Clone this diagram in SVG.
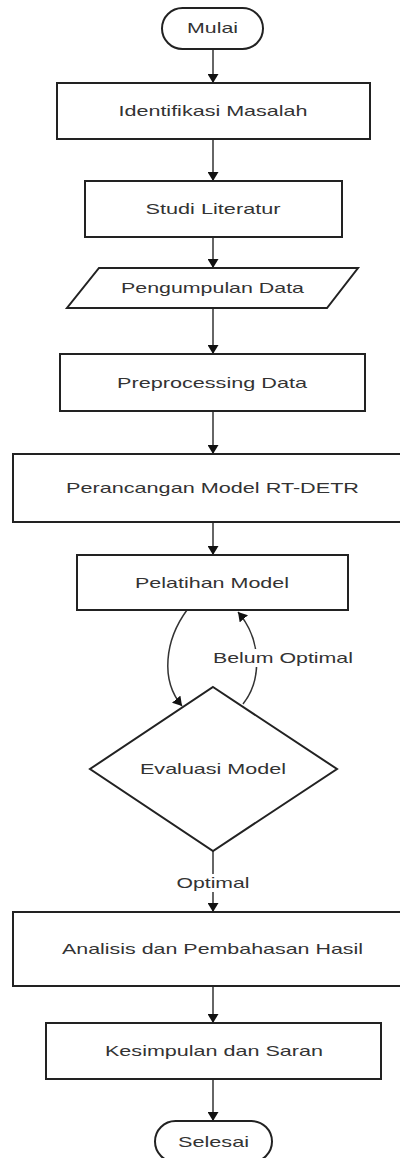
<svg xmlns="http://www.w3.org/2000/svg" width="400" height="1158" viewBox="0 0 400 1158">
<style>
.shape{fill:#fff;stroke:#222;stroke-width:2}
.txt{font-family:"Liberation Sans",Arial,sans-serif;font-size:15px;fill:#333;text-anchor:middle}
.edge{fill:none;stroke:#333;stroke-width:1.5}
.lblbg{fill:#fff;stroke:none}
</style>
<defs>
<marker id="arr" markerUnits="userSpaceOnUse" markerWidth="9" markerHeight="11" refX="9" refY="5.5" orient="auto">
<path d="M0,0 L9,5.5 L0,11 z" fill="#111"/>
</marker>
</defs>
<rect width="400" height="1158" fill="#fff"/>
<g id="connectors">
<line class="edge" x1="213" y1="49" x2="213" y2="83" marker-end="url(#arr)"/>
<line class="edge" x1="213" y1="139" x2="213" y2="181" marker-end="url(#arr)"/>
<line class="edge" x1="213" y1="237" x2="213" y2="268" marker-end="url(#arr)"/>
<line class="edge" x1="213" y1="308" x2="213" y2="354" marker-end="url(#arr)"/>
<line class="edge" x1="213" y1="411" x2="213" y2="454" marker-end="url(#arr)"/>
<line class="edge" x1="213" y1="522" x2="213" y2="555" marker-end="url(#arr)"/>
<path class="edge" d="M187,610 C165,640 160,680 182,706" marker-end="url(#arr)"/>
<path class="edge" d="M243,704 C262,680 262,640 238,612" marker-end="url(#arr)"/>
<rect class="lblbg" x="212" y="649" width="142" height="18"/>
<text class="txt" x="283" y="663.3" textLength="140" lengthAdjust="spacingAndGlyphs">Belum Optimal</text>
<line class="edge" x1="213" y1="851" x2="213" y2="912" marker-end="url(#arr)"/>
<rect class="lblbg" x="175" y="874" width="76" height="18"/>
<text class="txt" x="213" y="888.3" textLength="73" lengthAdjust="spacingAndGlyphs">Optimal</text>
<line class="edge" x1="213" y1="986" x2="213" y2="1023" marker-end="url(#arr)"/>
<line class="edge" x1="213" y1="1079" x2="213" y2="1121" marker-end="url(#arr)"/>
</g>
<g id="mulai">
<rect class="shape" x="162" y="8" width="101" height="41" rx="20.5"/>
<text class="txt" x="212.5" y="33.3" textLength="51" lengthAdjust="spacingAndGlyphs">Mulai</text>
</g>
<g id="identifikasi">
<rect class="shape" x="57" y="83" width="313" height="56"/>
<text class="txt" x="213" y="116.3" textLength="189" lengthAdjust="spacingAndGlyphs">Identifikasi Masalah</text>
</g>
<g id="studi">
<rect class="shape" x="85" y="181" width="257" height="56"/>
<text class="txt" x="213" y="214.3" textLength="135" lengthAdjust="spacingAndGlyphs">Studi Literatur</text>
</g>
<g id="pengumpulan">
<polygon class="shape" points="99,268 358,268 327,308 67,308"/>
<text class="txt" x="212.5" y="293.3" textLength="183" lengthAdjust="spacingAndGlyphs">Pengumpulan Data</text>
</g>
<g id="preprocessing">
<rect class="shape" x="60" y="354" width="305" height="57"/>
<text class="txt" x="212" y="387.8" textLength="190" lengthAdjust="spacingAndGlyphs">Preprocessing Data</text>
</g>
<g id="perancangan">
<rect class="shape" x="13" y="454" width="400" height="68"/>
<text class="txt" x="212.5" y="493.3" textLength="293" lengthAdjust="spacingAndGlyphs">Perancangan Model RT-DETR</text>
</g>
<g id="pelatihan">
<rect class="shape" x="77" y="555" width="271" height="55"/>
<text class="txt" x="212" y="587.8" textLength="154" lengthAdjust="spacingAndGlyphs">Pelatihan Model</text>
</g>
<g id="evaluasi">
<polygon class="shape" points="213,687 337,769 213,851 90,769"/>
<text class="txt" x="213" y="774.3" textLength="146" lengthAdjust="spacingAndGlyphs">Evaluasi Model</text>
</g>
<g id="analisis">
<rect class="shape" x="13" y="912" width="400" height="74"/>
<text class="txt" x="212.5" y="954.3" textLength="301" lengthAdjust="spacingAndGlyphs">Analisis dan Pembahasan Hasil</text>
</g>
<g id="kesimpulan">
<rect class="shape" x="46" y="1023" width="335" height="56"/>
<text class="txt" x="214" y="1056.3" textLength="218" lengthAdjust="spacingAndGlyphs">Kesimpulan dan Saran</text>
</g>
<g id="selesai">
<rect class="shape" x="155" y="1121" width="117" height="41" rx="20.5"/>
<text class="txt" x="213.5" y="1147.3" textLength="71" lengthAdjust="spacingAndGlyphs">Selesai</text>
</g>
</svg>
